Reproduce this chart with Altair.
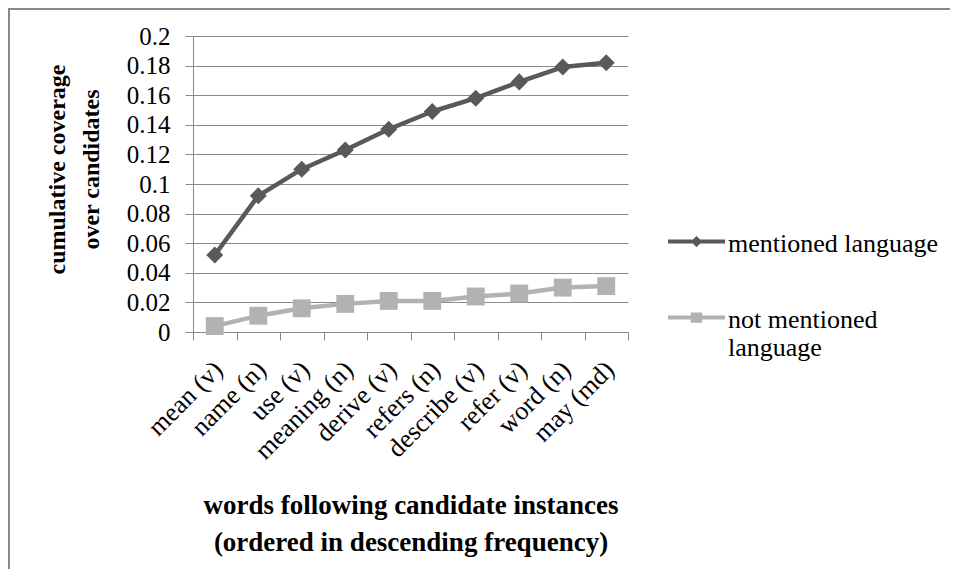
import altair as alt
import pandas as pd

words = ["mean (v)", "name (n)", "use (v)", "meaning (n)", "derive (v)",
         "refers (n)", "describe (v)", "refer (v)", "word (n)", "may (md)"]
mentioned = [0.052, 0.092, 0.110, 0.123, 0.137, 0.149, 0.158, 0.169, 0.179, 0.182]
not_mentioned = [0.004, 0.011, 0.016, 0.019, 0.021, 0.021, 0.024, 0.026, 0.030, 0.031]
series_names = ["mentioned language", "not mentioned language"]
series_colors = ["#595959", "#b2b2b2"]
series_shapes = ["diamond", "square"]
series_sizes = [290, 320]
y_ticks = [0, 0.02, 0.04, 0.06, 0.08, 0.1, 0.12, 0.14, 0.16, 0.18, 0.2]
x_title = ["words following candidate instances", "(ordered in descending frequency)"]
y_title = ["cumulative  coverage", "over  candidates"]

# legend symbols: line segment with marker, in a -1..1 box
legend_paths = [
    "M-1,0.32 L1,0.32 L1,0.46 L-1,0.46 Z M0,0.19 L0.2,0.39 L0,0.59 L-0.2,0.39 Z",
    "M-1,0.32 L1,0.32 L1,0.46 L-1,0.46 Z M-0.2,0.21 L0.2,0.21 L0.2,0.57 L-0.2,0.57 Z",
]

rows = []
for name, vals in zip(series_names, [mentioned, not_mentioned]):
    for w, v in zip(words, vals):
        rows.append({"series": name, "leg": name, "word": w, "value": v})
df = pd.DataFrame(rows)

FONT = "Liberation Serif"
GRID = "#8a8a8a"

x_axis = alt.Axis(
    title=x_title, titleFont=FONT, titleFontSize=27, titleFontWeight="bold",
    titleColor="#000", titleLineHeight=37, titleY=160, titleBaseline="top",
    labelFont=FONT, labelFontSize=26, labelColor="#000", labelAngle=-45,
    labelAlign="right", labelBaseline="top", labelPadding=16, labelOffset=-6,
    labelOverlap=False, labelLimit=300, tickSize=8, tickColor=GRID,
    domainColor=GRID, tickBand="extent", grid=False,
)
y_axis = alt.Axis(
    title=y_title, titleFont=FONT, titleFontSize=24, titleFontWeight="bold",
    titleColor="#000", titleLineHeight=34, titleAngle=-90, titleBaseline="top",
    titleAlign="center", titleX=-148, titleY=133,
    labelFont=FONT, labelFontSize=25, labelColor="#000", labelPadding=15,
    values=y_ticks, format=".2~f", tickSize=8, tickColor=GRID, domainColor=GRID,
    gridColor=GRID, grid=True,
)

x_scale = alt.Scale(type="band", paddingInner=0, paddingOuter=0)
y_scale = alt.Scale(domain=[0, 0.2], nice=False)
x_enc = alt.X("word:N", sort=words, scale=x_scale, axis=x_axis)
y_enc = alt.Y("value:Q", scale=y_scale, axis=y_axis)

layers = []
for i, name in enumerate(series_names):
    layers.append(
        alt.Chart(df).transform_filter(alt.datum.series == name)
        .mark_line(strokeWidth=4.5, color=series_colors[i], strokeJoin="round")
        .encode(x=x_enc, y=y_enc)
    )
for i, name in enumerate(series_names):
    layers.append(
        alt.Chart(df).transform_filter(alt.datum.series == name)
        .mark_point(shape=series_shapes[i], filled=True, size=series_sizes[i],
                    opacity=1, color=series_colors[i], strokeWidth=0)
        .encode(x=x_enc, y=y_enc)
    )

leg = alt.Legend(
    title=None, orient="none", legendX=475, legendY=166, padding=0,
    labelFont=FONT, labelFontSize=26, labelColor="#000", labelLimit=400,
    labelBaseline="top", labelOffset=3, symbolSize=3249, symbolStrokeWidth=0,
    rowPadding=21,
    labelExpr="datum.label == 'not mentioned language' ? ['not mentioned', 'language'] : datum.label",
)
layers.append(
    alt.Chart(df).transform_filter("false")
    .mark_point(filled=True, opacity=1, strokeWidth=0)
    .encode(
        color=alt.Color("leg:N", scale=alt.Scale(domain=series_names, range=series_colors), legend=leg),
        shape=alt.Shape("leg:N", scale=alt.Scale(domain=series_names, range=legend_paths), legend=leg),
    )
)

# outer frame (top and left edges)
frame = pd.DataFrame({"k": [0]})
layers.append(
    alt.Chart(frame).mark_rule(color="#888888", strokeWidth=2)
    .encode(x=alt.value(-185), x2=alt.value(757), y=alt.value(-27))
)
layers.append(
    alt.Chart(frame).mark_rule(color="#888888", strokeWidth=2)
    .encode(x=alt.value(-184), y=alt.value(-28), y2=alt.value(533))
)

chart = (
    alt.layer(*layers)
    .properties(
        width=435, height=296,
        autosize=alt.AutoSizeParams(type="none"),
        padding={"left": 185, "top": 28, "right": 322, "bottom": 237},
        background="white",
    )
    .configure_view(strokeWidth=0)
)

chart.save("out.html", embed_options={"renderer": "svg", "actions": False})
